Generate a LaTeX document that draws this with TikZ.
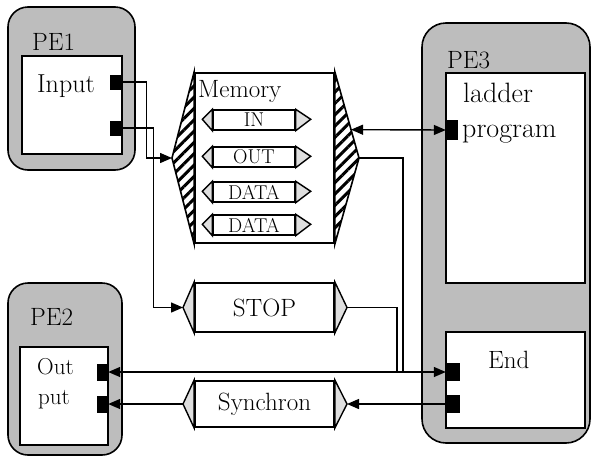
\documentclass[tikz,border=0pt]{standalone}
\usepackage{fontspec}
\usepackage{tikz}
\usetikzlibrary{positioning,arrows.meta,calc,patterns.meta}

\begin{document}
\begin{tikzpicture}[
    x=1pt, y=-1pt,
    >={Triangle[length=12pt,width=10pt]},
    font=\fontsize{25}{28}\selectfont,
    pe/.style={
        draw=black,
        line width=1.6pt,
        rounded corners=20pt,
        fill=black!26,
        inner sep=0pt
    },
    panel/.style={
        draw=black,
        line width=1.6pt,
        fill=white,
        inner sep=0pt
    },
    port/.style={
        fill=black,
        inner sep=0pt,
        minimum width=12pt,
        minimum height=17pt
    },
    sig/.style={
        draw=black,
        line width=1.8pt,
        fill=white,
        inner sep=0pt
    },
    tag/.style={
        draw=black,
        line width=1.4pt,
        fill=white,
        inner sep=0pt,
        minimum width=82pt,
        minimum height=20pt,
        font=\fontsize{20}{20}\selectfont
    },
    wing/.style={draw=black, line width=1.4pt, fill=gray!25},
    hatch/.style={
        draw=black,
        line width=1.6pt,
        pattern={Lines[angle=45,distance=8pt,line width=3pt]}
    },
    lbl/.style={inner sep=0pt, anchor=base west},
    arr/.style={->, line width=1.4pt}
]
\useasboundingbox (0,0) rectangle (594,461);

% PE1
\node[pe, minimum width=127pt, minimum height=163pt] (pe1) at (71.5,88.5) {};
\node[panel, minimum width=100pt, minimum height=98pt] (pe1in) at (72,105) {};
\node[port, minimum height=15pt] (in1) at (116,82) {};
\node[port, minimum height=15pt] (in2) at (116,128) {};
\node[lbl] (pe1lbl) at (32,50) {PE1};
\node[lbl, font=\fontsize{26}{28}\selectfont] (inputlbl) at (37,92) {Input};

% PE2
\node[pe, minimum width=114pt, minimum height=172pt] (pe2) at (65,369) {};
\node[panel, minimum width=88pt, minimum height=98pt] (pe2in) at (64,396) {};
\node[port, minimum width=11pt] (out1) at (102.5,372) {};
\node[port, minimum width=11pt] (out2) at (102.5,404) {};
\node[lbl] (pe2lbl) at (30,325) {PE2};
\node[lbl, font=\fontsize{23}{26}\selectfont] (outlbl) at (37,374) {Out};
\node[lbl, font=\fontsize{23}{26}\selectfont] (putlbl) at (38,404) {put};

% PE3
\node[pe, rounded corners=24pt, minimum width=168pt, minimum height=420pt] (pe3) at (506,233) {};
\node[panel, minimum width=139pt, minimum height=210pt] (ladder) at (515.5,178) {};
\node[panel, minimum width=139pt, minimum height=96pt] (endbox) at (515.5,380) {};
\node[port, minimum height=20pt] (prog) at (452,130) {};
\node[port, minimum width=14pt, minimum height=18pt] (end1) at (453,372) {};
\node[port, minimum width=14pt, minimum height=18pt] (end2) at (453,404) {};
\node[lbl] (pe3lbl) at (447,68) {PE3};
\node[lbl, font=\fontsize{28}{30}\selectfont] (ladderlbl) at (463,102) {ladder};
\node[lbl, font=\fontsize{28}{30}\selectfont] (proglbl) at (462,137) {program};
\node[lbl] (endlbl) at (488,368) {End};

% memory
\node[sig, minimum width=139pt, minimum height=170pt] (mem) at (264.5,158) {};
\coordinate (memL) at (172,158);
\coordinate (memR) at (359,158);
\draw[hatch] (mem.north west) -- (memL) -- (mem.south west) -- cycle;
\draw[hatch] (mem.north east) -- (memR) -- (mem.south east) -- cycle;
\node[lbl] (memlbl) at (198,97) {Memory};

\node[tag] (tagin) at (254,120) {IN};
\node[tag] (tagout) at (254,157) {OUT};
\node[tag] (tagdata) at (254,192) {DATA};
\node[tag] (tagdatb) at (254,225) {DATA};
\draw[wing] (tagin.north west) -- ++(-10,10) -- (tagin.south west) -- cycle;
\draw[wing] (tagin.north east) -- ++(15,10) -- (tagin.south east) -- cycle;
\draw[wing] (tagout.north west) -- ++(-10,10) -- (tagout.south west) -- cycle;
\draw[wing] (tagout.north east) -- ++(15,10) -- (tagout.south east) -- cycle;
\draw[wing] (tagdata.north west) -- ++(-10,10) -- (tagdata.south west) -- cycle;
\draw[wing] (tagdata.north east) -- ++(15,10) -- (tagdata.south east) -- cycle;
\draw[wing] (tagdatb.north west) -- ++(-10,10) -- (tagdatb.south west) -- cycle;
\draw[wing] (tagdatb.north east) -- ++(15,10) -- (tagdatb.south east) -- cycle;

% STOP and Synchron
\node[sig, minimum width=139pt, minimum height=49pt] (stop) at (264.5,307.5) {STOP};
\coordinate (stopL) at (183,307.5);
\coordinate (stopR) at (347,307.5);
\draw[wing] (stop.north west) -- (stopL) -- (stop.south west) -- cycle;
\draw[wing] (stop.north east) -- (stopR) -- (stop.south east) -- cycle;

\node[sig, minimum width=139pt, minimum height=46pt] (sync) at (264.5,404) {Synchron};
\coordinate (syncL) at (183,404);
\coordinate (syncR) at (347,404);
\draw[wing] (sync.north west) -- (syncL) -- (sync.south west) -- cycle;
\draw[wing] (sync.north east) -- (syncR) -- (sync.south east) -- cycle;

% connectors
\draw[arr] (in1.east) -- ++(24,0) |- (memL);
\draw[arr] (in2.east) -- ++(31,0) |- (stopL);
\coordinate (memio) at ($(mem.north east)!0.67!(memR)$);
\draw[arr, <->] (memio) -- (prog.west);
\coordinate (bus1) at (397,372);
\coordinate (bus2) at (403,372);
\draw[line width=1.4pt] (stopR) -| (bus1);
\draw[line width=1.4pt] (memR) -| (bus2);
\draw[arr, <->] (out1.east) -- (end1.west);
\draw[arr] (end2.west) -- (syncR);
\draw[arr] (syncL) -- (out2.east);

\end{tikzpicture}
\end{document}
